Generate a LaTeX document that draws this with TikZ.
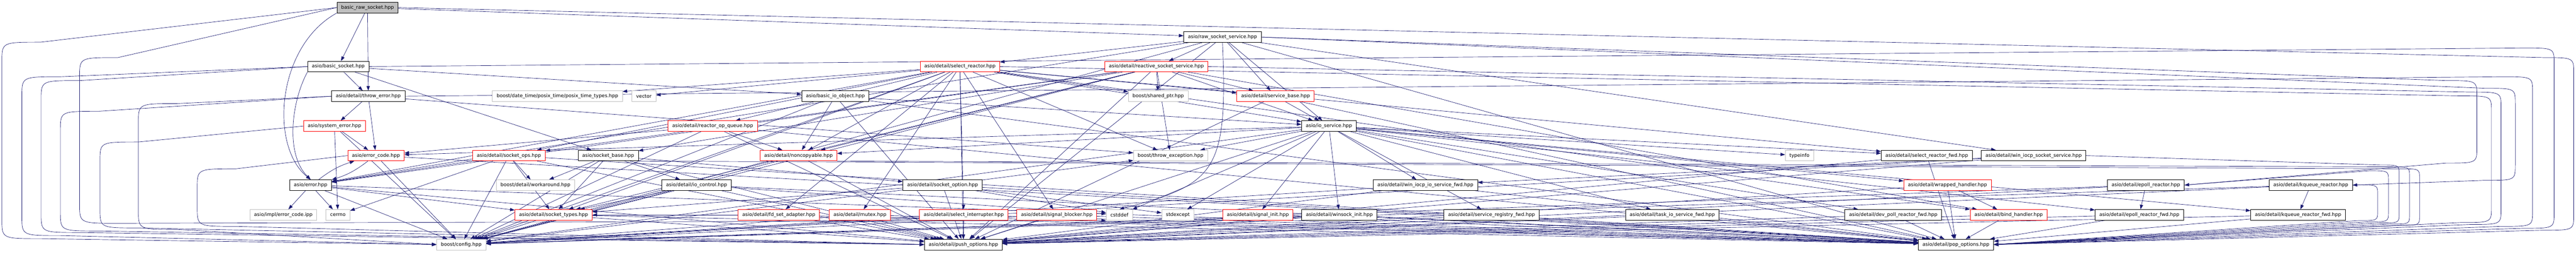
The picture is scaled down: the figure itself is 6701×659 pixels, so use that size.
\documentclass[tikz,border=0pt]{standalone}
\usepackage{fontspec}
\newfontfamily\dfont{DejaVu Sans}
\usetikzlibrary{arrows.meta}
\definecolor{edgeblue}{HTML}{191970}
\definecolor{grayfill}{HTML}{BFBFBF}
\pgfdeclarelayer{background}
\pgfsetlayers{background,main}
% right-hand loop: src, tgt, X, y-top, y-bottom, radius
\newcommand\myrloop[6]{\draw[edge] (#1) -- ({#3-2*#6},#4) .. controls (#3,#4) .. (#3,{#4+#6}) -- (#3,{#5-#6}) .. controls (#3,#5) .. ({#3-2*#6},#5) -- (#2);}
% left-hand loop
\newcommand\mylloop[6]{\draw[edge] (#1) -- ({#3+2*#6},#4) .. controls (#3,#4) .. (#3,{#4+#6}) -- (#3,{#5-#6}) .. controls (#3,#5) .. ({#3+2*#6},#5) -- (#2);}
\begin{document}
\begin{tikzpicture}[x=1pt,y=-1pt,
  box/.style={draw=black, fill=white, line width=1.1pt, minimum height=27.7pt,
    inner xsep=11pt, inner ysep=0pt, font=\dfont\fontsize{12.6pt}{15pt}\selectfont},
  redbox/.style={box, draw=red},
  graybox/.style={box, draw=grayfill},
  rootbox/.style={box, fill=grayfill},
  edge/.style={draw=edgeblue, line width=0.9pt, -{Triangle[length=12pt,width=8.5pt]}}]
\path[use as bounding box] (0,0) rectangle (6701,659);
% row 0
\node[rootbox] (brs) at (956,19.7) {basic\_raw\_socket.hpp};
% row 1
\node[box] (rss) at (3180,96.6) {asio/raw\_socket\_service.hpp};
% row 2
\node[box] (bsock) at (880,173.5) {asio/basic\_socket.hpp};
\node[redbox] (sr) at (2497,173.5) {asio/detail/select\_reactor.hpp};
\node[redbox] (react) at (3008,173.5) {asio/detail/reactive\_socket\_service.hpp};
% row 3
\node[box] (thr) at (958,250.8) {asio/detail/throw\_error.hpp};
\node[graybox] (ptime) at (1450,250.8) {boost/date\_time/posix\_time/posix\_time\_types.hpp};
\node[graybox] (vec) at (1675,250.8) {vector};
\node[box] (bio) at (2173,250.8) {asio/basic\_io\_object.hpp};
\node[graybox] (shp) at (3013,250.8) {boost/shared\_ptr.hpp};
\node[redbox] (svcb) at (3318,250.8) {asio/detail/service\_base.hpp};
% row 4
\node[redbox] (syserr) at (870,328.6) {asio/system\_error.hpp};
\node[redbox] (rq) at (1854,328.6) {asio/detail/reactor\_op\_queue.hpp};
\node[box] (ios) at (3457,328.6) {asio/io\_service.hpp};
% row 5
\node[redbox] (ec) at (978,405.5) {asio/error\_code.hpp};
\node[redbox] (sops) at (1324,405.5) {asio/detail/socket\_ops.hpp};
\node[box] (sbase) at (1582,405.5) {asio/socket\_base.hpp};
\node[redbox] (nc) at (2077,405.5) {asio/detail/noncopyable.hpp};
\node[graybox] (thex) at (3045,405.5) {boost/throw\_exception.hpp};
\node[graybox] (ti) at (4681,405.5) {typeinfo};
\node[box] (srfwd) at (5012,405.5) {asio/detail/select\_reactor\_fwd.hpp};
\node[box] (wiss) at (5290,405.5) {asio/detail/win\_iocp\_socket\_service.hpp};
% row 6
\node[box] (err) at (808,482.4) {asio/error.hpp};
\node[graybox] (wa) at (1393,482.4) {boost/detail/workaround.hpp};
\node[box] (ioc) at (1812,482.4) {asio/detail/io\_control.hpp};
\node[box] (sopt) at (2452,482.4) {asio/detail/socket\_option.hpp};
\node[box] (wiosf) at (3708,482.4) {asio/detail/win\_iocp\_io\_service\_fwd.hpp};
\node[redbox] (wh) at (5066,482.4) {asio/detail/wrapped\_handler.hpp};
\node[box] (ep) at (5582,482.4) {asio/detail/epoll\_reactor.hpp};
\node[box] (kq) at (6011,482.4) {asio/detail/kqueue\_reactor.hpp};
% row 7
\node[graybox] (ecipp) at (737,560) {asio/impl/error\_code.ipp};
\node[graybox] (cerrno) at (879,560) {cerrno};
\node[redbox] (stypes) at (1440,560) {asio/detail/socket\_types.hpp};
\node[redbox] (fdset) at (2026,560) {asio/detail/fd\_set\_adapter.hpp};
\node[redbox] (mtx) at (2237,560) {asio/detail/mutex.hpp};
\node[redbox] (si) at (2507,560) {asio/detail/select\_interrupter.hpp};
\node[redbox] (sb) at (2749,560) {asio/detail/signal\_blocker.hpp};
\node[graybox] (cstddef) at (2912,560) {cstddef};
\node[graybox] (stdex) at (3064,560) {stdexcept};
\node[redbox] (sinit) at (3272,560) {asio/detail/signal\_init.hpp};
\node[box] (wsi) at (3484,560) {asio/detail/winsock\_init.hpp};
\node[box] (srf) at (3880,560) {asio/detail/service\_registry\_fwd.hpp};
\node[box] (tiosf) at (4350,560) {asio/detail/task\_io\_service\_fwd.hpp};
\node[box] (dprf) at (4925,560) {asio/detail/dev\_poll\_reactor\_fwd.hpp};
\node[redbox] (bh) at (5225,560) {asio/detail/bind\_handler.hpp};
\node[box] (epf) at (5565,560) {asio/detail/epoll\_reactor\_fwd.hpp};
\node[box] (kqf) at (5978,560) {asio/detail/kqueue\_reactor\_fwd.hpp};
% row 8
\node[graybox] (cfg) at (1200,637.4) {boost/config.hpp};
\node[box] (push) at (2506,637.4) {asio/detail/push\_options.hpp};
\node[box] (pop) at (5088,637.4) {asio/detail/pop\_options.hpp};

\begin{pgfonlayer}{background}
\foreach \s/\t in {brs/bsock, brs/thr, brs/rss,
 bsock/thr, bsock/sbase, bsock/bio,
 thr/syserr, thr/ec, thr/thex,
 syserr/ec, syserr/cerrno, syserr/cfg,
 ec/cfg, ec/pop,
 err/ecipp, err/cerrno, err/stypes, err/cfg, err/push, err/pop,
 sops/wa, sops/stypes, sops/cerrno, sops/err, sops/cfg, sops/push, sops/pop,
 sbase/wa, sbase/stypes, sbase/ioc, sbase/sopt, sbase/cfg, sbase/push,
 stypes/cfg, stypes/push, stypes/pop,
 bio/nc, bio/ios, bio/cfg, bio/push, bio/pop,
 rq/nc, rq/ec, rq/cfg, rq/push, rq/pop,
 nc/cfg, nc/push,
 ioc/stypes, ioc/cstddef, ioc/cfg, ioc/push, ioc/pop,
 fdset/stypes, fdset/push, fdset/pop,
 mtx/cfg, mtx/push, mtx/pop,
 sr/mtx, sr/si, sr/sb, sr/fdset, sr/rq, sr/nc, sr/sops, sr/stypes, sr/ptime, sr/vec,
 sr/svcb, sr/ios, sr/srfwd, sr/bh, sr/shp, sr/thex, sr/push, sr/cfg, sr/err,
 sopt/cstddef, sopt/stdex, sopt/stypes, sopt/thex, sopt/cfg, sopt/push, sopt/pop,
 si/push, si/pop, si/cfg, sb/push, sb/pop, sb/cfg,
 rss/react, rss/svcb, rss/sr, rss/wiss, rss/ios, rss/err, rss/push, rss/cfg, rss/pop,
 react/shp, react/svcb, react/err, react/ios, react/sbase, react/bh, react/nc, react/sops,
 react/stypes, react/push, react/cfg, react/thex,
 svcb/ios, svcb/push, svcb/pop, sinit/push, sinit/pop,
 ios/wiosf, ios/wsi, ios/srf, ios/tiosf, ios/ti, ios/srfwd, ios/wh, ios/dprf, ios/epf, ios/kqf,
 ios/sinit, ios/stdex, ios/cstddef, ios/thex, ios/ec, ios/nc, ios/push, ios/cfg, ios/pop,
 wiosf/push, wiosf/pop, wiosf/cfg, wsi/push, wsi/pop, wsi/cfg,
 srf/push, srf/pop, tiosf/push, tiosf/pop, srfwd/push, srfwd/pop,
 wh/bh, wh/pop, wh/push, dprf/push, dprf/pop,
 wiss/wiosf, wiss/push, wiss/cfg, bh/push, bh/pop,
 ep/epf, ep/push, ep/cfg, epf/push, epf/pop,
 kq/kqf, kq/push, kq/cfg, kqf/push, kqf/pop}
 \draw[edge] (\s) -- (\t);
\draw[edge] (err) to[bend left=10] (ec);
\draw[edge] (ec) to[bend left=10] (err);
% curved edges around the left cluster
\draw[edge] (brs.south west) .. controls (720,120) and (700,380) .. (err.north);
\draw[edge] (bsock.south west) .. controls (760,260) and (740,400) .. (err.north);
\draw[edge] (rss.south) .. controls (3195,450) and (3160,480) .. (cstddef.north);
% left loops
\mylloop{brs.west}{cfg.west}{5}{110}{622}{50}
\mylloop{brs.west}{cstddef.south west}{207}{150}{582}{50}
\mylloop{bsock.west}{cfg.west}{57}{200}{614}{50}
\mylloop{bsock.west}{push.west}{107}{210}{606}{50}
\mylloop{thr.west}{cfg.west}{360}{270}{598}{50}
\mylloop{thr.west}{push.west}{157}{290}{602}{50}
\mylloop{syserr.west}{push.west}{260}{370}{594}{50}
\mylloop{ec.west}{push.west}{513}{440}{590}{50}
% right loops
\myrloop{brs.east}{pop.east}{6695}{150}{600}{40}
\myrloop{bsock.east}{pop.east}{6644}{125}{595}{40}
\myrloop{thr.east}{pop.east}{6588}{200}{590}{40}
\myrloop{rss.east}{kq.east}{6543}{230}{470}{40}
\myrloop{react.east}{pop.east}{6506}{240}{585}{40}
\myrloop{sr.east}{pop.east}{6481}{250}{580}{40}
\myrloop{rss.east}{ep.east}{6443}{210}{425}{40}
\myrloop{kq.east}{pop.east}{6185}{482}{575}{25}
\myrloop{ep.east}{pop.east}{6213}{445}{578}{25}
\myrloop{wiss.east}{pop.east}{6241}{430}{581}{25}
\myrloop{nc.south east}{pop.east}{6268}{435}{584}{25}
\myrloop{sbase.south east}{pop.east}{6294}{440}{587}{25}
\end{pgfonlayer}
\end{tikzpicture}
\end{document}
